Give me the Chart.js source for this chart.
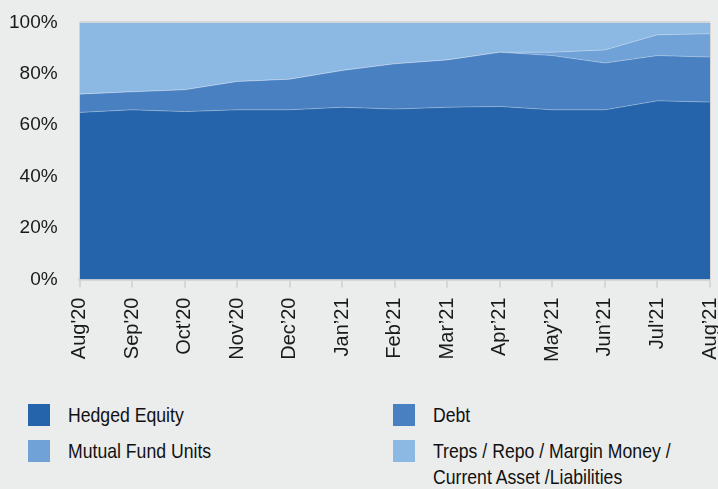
<!DOCTYPE html>
<html>
<head>
<meta charset="utf-8">
<script src="https://cdn.jsdelivr.net/npm/chart.js@4"></script>
<style>
  body { margin: 0; background: #ebecec; font-family: 'Liberation Sans', Arial, sans-serif; }
  #wrap { position: relative; width: 718px; height: 489px; overflow: hidden; }
  #chartBox { position: absolute; left: -21px; top: -11px; width: 765px; height: 383px; }
  #legend { position: absolute; left: 28px; top: 402px; display: grid; grid-template-columns: 365px 320px; row-gap: 10px; }
  .item { display: flex; align-items: flex-start; font-size: 21px; line-height: 26px; color: #111; }
  .sw { width: 22px; height: 22px; margin-top: 2px; margin-right: 18px; flex: none; }
  .txt { white-space: pre; transform: scaleX(0.84); transform-origin: left top; }
</style>
</head>
<body>
<div id="wrap">
  <div id="chartBox"><canvas id="areaChart"></canvas></div>
  <div id="legend"></div>
</div>
<script>
const months = ["Aug'20", "Sep'20", "Oct'20", "Nov’20", "Dec’20", "Jan’21", "Feb’21",
                "Mar’21", "Apr’21", "May’21", "Jun’21", "Jul'21", "Aug’21"];

const hedgedEquity    = [65, 66, 65.3, 66, 66, 67, 66.3, 67, 67.3, 66, 66, 69.5, 69];
const debt            = [7.1, 7, 8.5, 11, 11.9, 14.3, 17.6, 18.4, 21.1, 21.1, 18.2, 17.6, 17.5];
const mutualFundUnits = [0, 0, 0, 0, 0, 0, 0, 0, 0, 1.3, 5.1, 8.1, 9.1];
const trepsRepo       = [27.9, 27, 26.2, 23, 22.1, 18.7, 16.1, 14.6, 11.6, 11.6, 10.7, 4.8, 4.4];

const seriesNames = ['Hedged Equity', 'Debt', 'Mutual Fund Units',
                     'Treps / Repo / Margin Money /\nCurrent Asset /Liabilities'];
const seriesData = [hedgedEquity, debt, mutualFundUnits, trepsRepo];
const seriesColors = ['#2563aa', '#4880c2', '#70a2d8', '#8cb8e4'];

const yTicks = [0, 20, 40, 60, 80, 100];

const fontFamily = "'Liberation Sans', Arial, sans-serif";

function setupAreaChart() {
    let ctx = document.getElementById('areaChart').getContext('2d');
    let datasets = seriesNames.map((name, i) => ({
        label: name,
        data: seriesData[i],
        backgroundColor: seriesColors[i],
        borderColor: 'rgba(255,255,255,0.3)',
        borderWidth: 1,
        pointRadius: 0,
        tension: 0,
        fill: i === 0 ? 'origin' : '-1'
    }));

    new Chart(ctx, {
        type: 'line',
        data: { labels: months, datasets: datasets },
        options: {
            responsive: true,
            maintainAspectRatio: false,
            animation: false,
            layout: { padding: { left: 8, right: 0, top: 0, bottom: 0 } },
            plugins: { legend: { display: false }, tooltip: { enabled: false } },
            scales: {
                x: {
                    offset: false,
                    grid: { color: '#d6d6d6', lineWidth: 2, tickLength: 8, tickColor: '#d6d6d6' },
                    border: { color: '#d6d6d6', width: 3 },
                    ticks: {
                        maxRotation: 90,
                        minRotation: 90,
                        autoSkip: false,
                        padding: 10,
                        color: '#1a1a1a',
                        font: { family: fontFamily, size: 20 }
                    }
                },
                y: {
                    stacked: true,
                    min: 0,
                    max: 100,
                    afterBuildTicks: axis => { axis.ticks = yTicks.map(v => ({ value: v })); },
                    grid: { color: '#d6d6d6', lineWidth: 2, drawTicks: false },
                    border: { color: '#d6d6d6', width: 1 },
                    ticks: {
                        padding: 22,
                        color: '#1a1a1a',
                        font: { family: fontFamily, size: 19 },
                        callback: v => v + '%'
                    }
                }
            }
        }
    });
}

function buildLegend() {
    let box = document.getElementById('legend');
    seriesNames.forEach((name, i) => {
        let item = document.createElement('div');
        item.className = 'item';
        let sw = document.createElement('span');
        sw.className = 'sw';
        sw.style.background = seriesColors[i];
        let txt = document.createElement('span');
        txt.className = 'txt';
        txt.textContent = name;
        item.appendChild(sw);
        item.appendChild(txt);
        box.appendChild(item);
    });
}

setupAreaChart();
buildLegend();
</script>
</body>
</html>
